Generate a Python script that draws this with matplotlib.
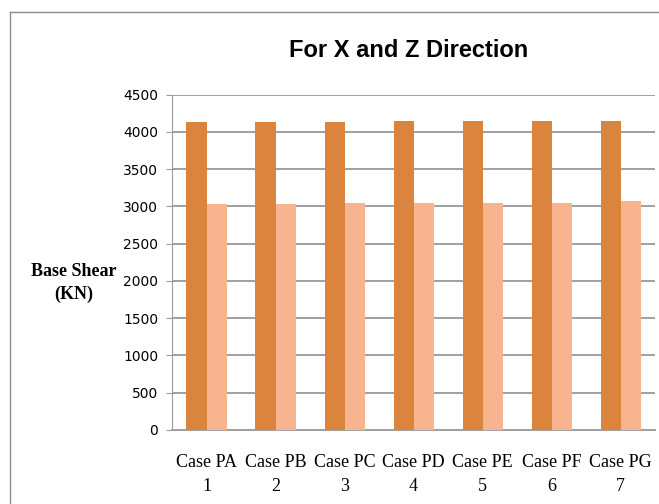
import matplotlib.pyplot as plt
import numpy as np
from matplotlib.lines import Line2D

cases = ['Case PA\n1', 'Case PB\n2', 'Case PC\n3', 'Case PD\n4',
         'Case PE\n5', 'Case PF\n6', 'Case PG\n7']
shear_x = [4130, 4130, 4135, 4150, 4150, 4150, 4150]
shear_z = [3035, 3035, 3050, 3050, 3050, 3050, 3070]
yticks = [0, 500, 1000, 1500, 2000, 2500, 3000, 3500, 4000, 4500]

fig = plt.figure(figsize=(6.59, 5.04), dpi=100)
ax = fig.add_axes([0.261, 0.147, 0.733, 0.665])

x = np.arange(len(cases))
w = 0.29
ax.bar(x - w / 2, shear_x, w, color='#DB843D', zorder=3)
ax.bar(x + w / 2, shear_z, w, color='#F8B48E', zorder=3)

ax.set_xlim(-0.5, len(cases) - 0.5)
ax.set_ylim(0, 4500)
ax.set_yticks(yticks)
ax.yaxis.grid(True, color='#A0A0A0', linewidth=1.4, zorder=0)
ax.set_axisbelow(True)

for s in ['top', 'right']:
    ax.spines[s].set_visible(False)
ax.spines['left'].set_color('#9A9A9A')
ax.spines['bottom'].set_color('#A0A0A0')
ax.spines['bottom'].set_linewidth(1.4)
ax.tick_params(axis='y', length=4, color='#9A9A9A', labelsize=10, pad=6)
ax.tick_params(axis='x', length=0, pad=17)

ax.set_xticks(x)
ax.set_xticklabels(cases, fontfamily='Liberation Serif', fontsize=13,
                   linespacing=1.6)

fig.text(0.62, 0.9, 'For X and Z Direction', ha='center', va='center',
         fontsize=17, fontweight='bold', family='Liberation Sans')
fig.text(0.112, 0.438, 'Base Shear\n(KN)', ha='center', va='center',
         fontsize=13, fontweight='bold', family='Liberation Serif',
         linespacing=1.45)

# chart frame
fig.add_artist(Line2D([10 / 659, 10 / 659], [0, 1 - 12 / 504],
                      transform=fig.transFigure, color='#8C8C8C', lw=1))
fig.add_artist(Line2D([10 / 659, 1], [1 - 12 / 504, 1 - 12 / 504],
                      transform=fig.transFigure, color='#8C8C8C', lw=1))

fig.savefig('out.png', dpi=100)
